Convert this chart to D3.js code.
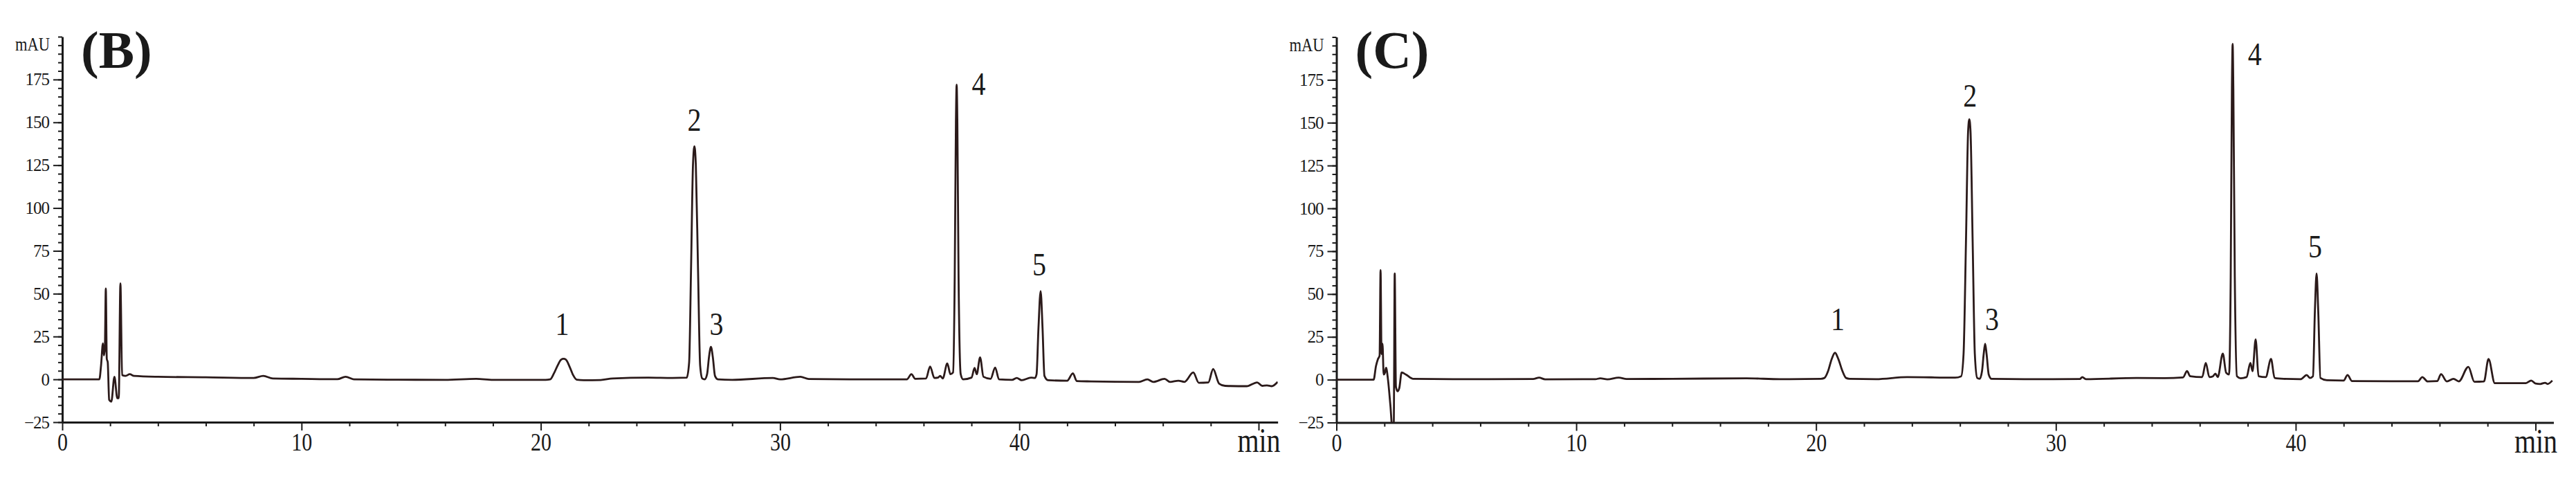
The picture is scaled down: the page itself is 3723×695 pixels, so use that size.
<!DOCTYPE html>
<meta charset="utf-8">
<style>
    body { margin: 0; background: #fff; }
    svg { display: block; }
    text { font-family: "Liberation Serif", "Times New Roman", serif; fill: #1a1a1a; }
    .axis path { stroke: #1a1a1a; stroke-width: 3px; }
    .axis line { stroke: #1a1a1a; stroke-width: 2px; }
    .trace {
        fill: none;
        stroke: #2b1a1a;
        stroke-width: 2.8px;
        stroke-linejoin: round;
    }
</style>
<body>
<script src="https://d3js.org/d3.v7.min.js"></script>
<script>
    // chromatogram (B): retention time (min) and absorbance (mAU)
    var timeB = [0, 1.55, 1.62, 1.70, 1.74, 1.78, 1.82, 1.86, 1.90, 1.96, 2.05, 2.18, 2.30, 2.36, 2.43, 2.50, 2.65, 2.82, 3.0,
        4, 6, 8.0, 8.4, 8.8, 10, 11.5, 11.84, 12.2, 14, 16, 17.3, 18, 20.2,
        20.39, 20.55, 20.7, 20.85, 20.95, 21.05, 21.2, 21.35, 21.5, 21.8, 22.5, 23.0, 24.5, 25.5,
        26.1, 26.2, 26.28, 26.36, 26.42, 26.48, 26.57, 26.66, 26.75, 26.85, 26.95, 27.03, 27.11, 27.19, 27.28, 27.4,
        28, 29.7, 30, 30.85, 31.2, 33, 35.3, 35.49, 35.65, 36.1, 36.27, 36.45, 36.6, 36.69, 36.8, 36.99, 37.12, 37.23,
        37.3, 37.35, 37.38, 37.41, 37.46, 37.55, 37.65, 38.0, 38.13, 38.22, 38.36, 38.5, 38.8, 38.99, 39.15, 39.7, 39.89,
        40.1, 40.49, 40.65, 40.72, 40.80, 40.89, 40.97, 41.05, 41.2, 42.0, 42.24, 42.4, 43, 45.0, 45.35, 45.6, 46.07,
        46.3, 46.65, 46.9, 47.27, 47.5, 47.9, 48.1, 48.35, 48.6, 49.5, 49.94, 50.15, 50.35, 50.55, 50.8];
    var signalB = [0, 0, 8, 21, 14, 18, 53, 12, 10, -12, -13, 1.5, -11, -11, 56, 2.5, 2, 3, 2,
        1.5, 1.2, 0.8, 2, 0.5, 0.3, 0.1, 1.5, 0, -0.2, -0.3, 0.3, -0.3, -0.3,
        0, 3.5, 8, 11.5, 12, 11.5, 7.5, 2.5, -0.2, -0.5, -0.4, 0.5, 1, 0.8,
        1, 10, 65, 125, 136, 125, 65, 8, 0.5, 0, 3, 13, 19, 13, 2, 0,
        -0.3, 0.8, 0, 1.5, 0.2, 0, 0, 3, 0.3, 0.5, 7.5, 0.8, 1, 2, 0.5, 9.3, 3, 4,
        60, 150, 172, 150, 60, 3, 0, 1, 6.6, 3, 12.8, 1.5, 0.3, 6.9, 0, -0.3, 0.8,
        -0.5, 1, 0.8, 3, 30, 51.5, 30, 2, -0.5, -0.8, 3.5, -1, -1.2, -1.5, 0, -1.5, 0.3,
        -1.5, -0.8, -1.5, 4, -2, -1.8, 6, -2.5, -3.8, -4, -1.8, -3.8, -3.5, -4, -1.5];

    // chromatogram (C)
    var timeC = [0, 1.55, 1.65, 1.73, 1.80, 1.84, 1.88, 1.92, 1.97, 2.02, 2.07, 2.15, 2.25, 2.33, 2.39, 2.43, 2.48, 2.55, 2.62,
        2.72, 2.9, 3.2, 5, 8.2, 8.45, 8.7, 10.8, 11.0, 11.3, 11.77, 12.1, 14, 17.1, 18.5,
        20.2, 20.35, 20.5, 20.65, 20.79, 20.93, 21.1, 21.25, 21.4, 22.5, 23.8, 25.8,
        26.05, 26.15, 26.25, 26.34, 26.39, 26.44, 26.53, 26.62, 26.72, 26.82, 26.92, 26.99, 27.05, 27.11, 27.2, 27.32,
        29, 31.0, 31.1, 31.25, 33.37, 34.52, 35.3, 35.47, 35.6, 36.1, 36.25, 36.4, 36.55, 36.65, 36.75, 36.96, 37.1, 37.22,
        37.29, 37.34, 37.37, 37.40, 37.46, 37.55, 37.7, 37.95, 38.11, 38.2, 38.33, 38.45, 38.75, 38.97, 39.12, 39.5,
        40.2, 40.46, 40.6, 40.72, 40.8, 40.87, 40.94, 41.03, 41.3, 42.0, 42.16, 42.35, 45.1, 45.28, 45.5, 45.9, 46.06,
        46.3, 46.58, 46.8, 47.2, 47.45, 47.85, 48.04, 48.3, 49.6, 49.82, 50.0, 50.2, 50.4, 50.5, 50.7];
    var signalC = [0, 0, 8, 12, 14, 64, 15, 21, 3, 4, 7, 0, -15, -28, -27, 62, -4, -6.8, -5,
        4.2, 3, 0.5, 0.3, 0.4, 1.2, 0.2, 0.3, 0.8, 0.2, 1.2, 0.4, 0.5, 0.8, 0.3,
        0.5, 1, 5, 12, 15.7, 12, 5, 1, 0.5, 0.3, 1.5, 1.2,
        2, 15, 80, 145, 152, 145, 80, 15, 1, 0.5, 5, 15, 21, 15, 3, 0.5,
        0.3, 0.4, 1.5, 0.3, 1, 0.9, 1.3, 5, 2, 1.5, 9.8, 1.5, 2, 3.5, 1.5, 15.2, 4, 3,
        60, 170, 196, 170, 60, 2, 0.8, 1.5, 9.8, 5, 23.5, 2, 1.5, 12.1, 1, 0.5,
        0.3, 2.7, 1, 2, 40, 62, 40, 1, -0.3, -0.5, 2.7, -0.8, -0.9, 1.5, -1, -0.8, 3.2,
        -1, 0.5, -1, 7.5, -1.2, -1, 12.1, -2, -2, -0.5, -2.2, -2.5, -1.8, -2.5, -0.5];

    var peakNames = ["1", "2", "3", "4", "5"];
    var peakTimesB = [20.95, 26.42, 27.11, 37.38, 40.89];
    var peakTimesC = [20.79, 26.39, 27.05, 37.37, 40.87];

    var yTicks = [-25, 0, 25, 50, 75, 100, 125, 150, 175];
    var xTicks = [0, 10, 20, 30, 40, 50];
    var xTickLabels = ["0", "10", "20", "30", "40", "min"];
    var panelNames = ["(B)", "(C)"];

    var width = 3723, height = 695;
    var stretch = 1.18;   // the original lettering is a little taller than it is wide

    var panels = [
        { name: panelNames[0], time: timeB, signal: signalB, peaks: peakTimesB,
          left: 90, pxPerMin: 34.58, tEnd: 50.8, bottom: 610, top: 53,
          labelDx: [-2, 0, 8, 32, -2], labelDy: [-34, -22, -17, 15, -23] },
        { name: panelNames[1], time: timeC, signal: signalC, peaks: peakTimesC,
          left: 1931.5, pxPerMin: 34.66, tEnd: 50.75, bottom: 610.5, top: 53.5,
          labelDx: [4, 1, 10, 32, -2], labelDy: [-33, -18, -20, 31, -23] }
    ];

    var svg = d3.select("body").append("svg")
        .attr("width", width)
        .attr("height", height);

    svg.append("rect").attr("width", width).attr("height", height).attr("fill", "#fff");

    panels.forEach(function(p, pi) {
        var x = d3.scaleLinear().domain([0, p.tEnd]).range([p.left, p.left + p.tEnd * p.pxPerMin]);
        var y = d3.scaleLinear().domain([-25, 200]).range([p.bottom, p.top]);

        var g = svg.append("g");

        // clip the trace to the plot box (the solvent front dips below -25)
        var clipId = "clip" + pi;
        svg.append("clipPath").attr("id", clipId)
            .append("rect")
            .attr("x", x.range()[0]).attr("y", p.top - 40)
            .attr("width", x.range()[1] - x.range()[0])
            .attr("height", p.bottom - p.top + 40);

        // minor y ticks every 5 mAU
        g.append("g").attr("class", "axis")
            .attr("transform", "translate(" + p.left + ",0)")
            .call(d3.axisLeft(y).tickValues(d3.range(-25, 201, 5)).tickSize(6).tickSizeOuter(0).tickFormat(""))
            .select(".domain").remove();

        // major y ticks
        var yAxis = g.append("g").attr("class", "axis")
            .attr("transform", "translate(" + p.left + ",0)")
            .call(d3.axisLeft(y).tickValues(yTicks).tickSize(13).tickSizeOuter(0).tickPadding(6));
        yAxis.selectAll("text").style("font-size", "25px").attr("letter-spacing", "-1");

        // minor x ticks every 2 min
        g.append("g").attr("class", "axis")
            .attr("transform", "translate(0," + p.bottom + ")")
            .call(d3.axisBottom(x).tickValues(d3.range(2, 50, 2).filter(function(d) { return d % 10 !== 0; }))
                .tickSize(6).tickSizeOuter(0).tickFormat(""))
            .select(".domain").remove();

        // major x ticks, last one labelled with the unit
        var xAxis = g.append("g").attr("class", "axis")
            .attr("transform", "translate(0," + p.bottom + ")")
            .call(d3.axisBottom(x).tickValues(xTicks).tickSize(12).tickSizeOuter(0).tickPadding(6)
                .tickFormat(function(d, i) { return xTickLabels[i]; }));
        xAxis.selectAll("text")
            .style("font-size", "30px")
            .attr("y", 0).attr("dy", null)
            .attr("transform", "translate(0,41) scale(1," + stretch + ")");
        xAxis.selectAll("text").filter(function(d, i) { return xTickLabels[i] === "min"; })
            .style("font-size", "40px")
            .attr("transform", "translate(0,43) scale(1,1.25)");

        // unit of the y axis
        g.append("text")
            .attr("x", p.left - 18)
            .attr("y", p.top + 20)
            .attr("text-anchor", "end")
            .attr("textLength", 50)
            .attr("lengthAdjust", "spacingAndGlyphs")
            .style("font-size", "27px")
            .text("mAU");

        // trace
        var pts = p.time.map(function(t, i) { return [t, p.signal[i]]; });
        var line = d3.line()
            .x(function(d) { return x(d[0]); })
            .y(function(d) { return y(d[1]); })
            .curve(d3.curveMonotoneX);

        g.append("path")
            .datum(pts)
            .attr("class", "trace")
            .attr("clip-path", "url(#" + clipId + ")")
            .attr("d", line);

        // numbered peaks
        g.selectAll(".peak-label")
            .data(p.peaks)
            .enter().append("text")
            .attr("class", "peak-label")
            .attr("text-anchor", "middle")
            .style("font-size", "40px")
            .attr("transform", function(t, i) {
                var top = d3.max(pts.filter(function(d) { return Math.abs(d[0] - t) < 0.05; }), function(d) { return d[1]; });
                return "translate(" + (x(t) + p.labelDx[i]) + "," + (y(top) + p.labelDy[i]) + ") scale(1," + stretch + ")";
            })
            .text(function(t, i) { return peakNames[i]; });

        // panel letter
        g.append("text")
            .attr("x", p.left + 27)
            .attr("y", 98)
            .style("font-size", "77px")
            .style("font-weight", "bold")
            .text(p.name);
    });
</script>
</body>
</html>
